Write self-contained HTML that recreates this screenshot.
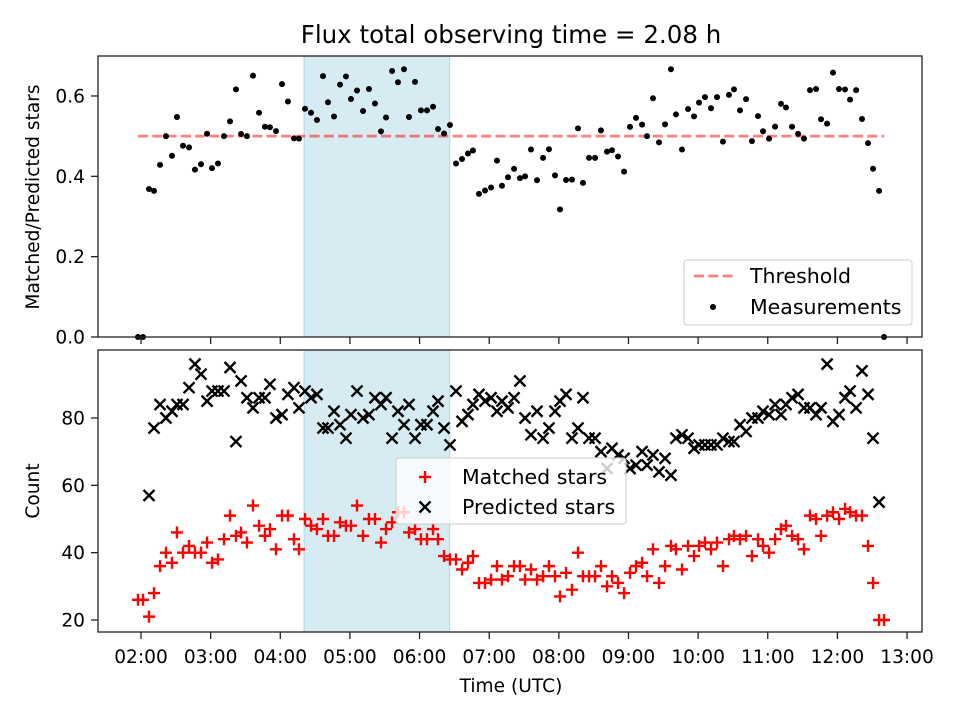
<!DOCTYPE html>
<html><head><meta charset="utf-8"><style>
body{margin:0;background:#fff}
svg{display:block;font-family:"DejaVu Sans","Liberation Sans",sans-serif}
</style></head><body>
<svg id="chart" width="960" height="720" viewBox="0 0 960 720"></svg>
<script>
const times=[117.4,121.7,126.9,131.2,136.4,141.5,146.7,151.0,156.2,161.4,166.5,171.7,176.9,181.2,186.3,191.5,196.7,201.8,206.2,211.3,216.5,221.7,226.8,231.1,236.3,241.5,246.6,251.8,256.1,261.3,266.5,271.6,276.8,281.1,286.3,291.5,296.6,300.9,306.1,311.3,316.4,321.6,326.8,331.1,336.3,341.4,346.6,350.9,356.1,361.2,366.4,371.6,375.9,381.1,386.2,391.4,396.6,401.7,406.0,411.2,416.4,421.6,426.7,431.0,436.2,441.4,446.5,450.9,456.0,461.2,466.4,471.5,476.7,481.0,486.2,491.3,496.5,500.8,506.0,511.2,516.3,521.5,525.8,531.0,536.2,541.3,546.5,551.7,556.0,561.1,566.3,571.5,576.6,580.9,586.1,591.3,596.5,600.8,605.9,611.1,616.3,621.4,626.6,630.9,636.1,641.3,646.4,651.6,655.9,661.1,666.3,671.4,675.7,680.9,686.1,691.2,696.4,701.6,705.9,711.1,716.2,721.4,726.6,730.9,736.1,741.2,746.4,750.7,755.9,760.2];
const matched=[26,26,21,28,36,40,37,46,40,42,40,40,43,37,38,44,51,45,46,43,54,48,45,47,41,51,51,44,41,50,48,47,50,45,45,49,48,48,54,45,50,50,43,47,49,52,52,46,47,44,44,47,44,39,38,38,35,37,39,31,31,32,36,32,33,36,36,32,35,32,33,36,33,27,34,29,40,33,33,33,36,30,33,31,28,34,36,37,33,41,31,36,42,41,35,42,39,42,43,41,43,36,44,45,44,45,39,44,42,40,44,47,48,45,44,41,51,50,45,51,52,50,53,52,51,51,42,31,20,20];
const predicted=[0,0,57,77,84,80,82,84,84,89,96,93,85,88,88,88,95,73,91,86,83,86,86,90,80,81,87,89,83,88,86,87,77,77,82,78,74,81,88,80,81,86,84,86,74,82,78,84,74,78,78,82,85,77,72,88,79,81,84,87,85,86,82,85,83,86,91,80,75,82,74,77,82,85,87,74,77,86,74,74,70,65,71,69,68,65,66,70,66,69,64,68,63,74,75,74,71,72,72,72,72,74,73,73,78,76,80,80,82,81,84,81,84,86,87,83,83,81,83,96,79,81,86,88,83,94,87,74,55,0];
const xTickLabels=["02:00","03:00","04:00","05:00","06:00","07:00","08:00","09:00","10:00","11:00","12:00","13:00"];
const xTickValues=[120,180,240,300,360,420,480,540,600,660,720,780];
const topTicks=[0,0.2,0.4,0.6];
const bottomTicks=[20,40,60,80];
const threshold=0.5;
const spanStart=260.5, spanEnd=386;

const NS="http://www.w3.org/2000/svg";
const svg=document.getElementById('chart');
function mk(tag,attrs,parent){const e=document.createElementNS(NS,tag);for(const k in attrs)e.setAttribute(k,attrs[k]);(parent||svg).appendChild(e);return e;}
const X=t=>141+(t-120)*69.64/60;
const YT=r=>337-r*401.7;
const YB=c=>620-(c-20)*3.367;
const L=98,R=922;
const FT=18.6, FL=20.5;

let t=mk('text',{x:511,y:43,'text-anchor':'middle','font-size':'24.5'});t.textContent='Flux total observing time = 2.08 h';



[[56,337,'top-observing-span'],[350,632,'bottom-observing-span']].forEach(([y0,y1,n])=>{
 const s=mk('rect',{x:X(spanStart),y:y0,width:X(spanEnd)-X(spanStart),height:y1-y0,fill:'#add8e6','fill-opacity':0.5,stroke:'#add8e6','stroke-width':1});
 
 
});

const tl=mk('line',{x1:X(times[0]),x2:X(times[times.length-1]),y1:YT(threshold),y2:YT(threshold),stroke:'#ff0000','stroke-opacity':0.5,'stroke-width':2.8,'stroke-dasharray':'10,4.3'});



const ratio=matched.map((m,i)=>predicted[i]>0?m/predicted[i]:0);
ratio.forEach((r,i)=>{
 const c=mk('circle',{cx:X(times[i]),cy:YT(r),r:3,fill:'#000'});
 
 
});

function xMark(cx,cy,col,g){const s=5.5;mk('path',{d:`M${cx-s},${cy-s}L${cx+s},${cy+s}M${cx-s},${cy+s}L${cx+s},${cy-s}`,stroke:col,'stroke-width':2.4,fill:'none'},g);}
function plusMark(cx,cy,col,g){const s=6;mk('path',{d:`M${cx-s},${cy}L${cx+s},${cy}M${cx},${cy-s}L${cx},${cy+s}`,stroke:col,'stroke-width':2.4,fill:'none'},g);}
const clip=mk('clipPath',{id:'cb'});mk('rect',{x:L,y:350,width:R-L,height:282},clip);
const gP=mk('g',{'clip-path':'url(#cb)'});


predicted.forEach((p,i)=>xMark(X(times[i]),YB(p),'#000',gP));
const gM=mk('g',{'clip-path':'url(#cb)'});


matched.forEach((m,i)=>plusMark(X(times[i]),YB(m),'#ff0000',gM));

[[56,337,'top-axes'],[350,632,'bottom-axes']].forEach(([y0,y1,n])=>{
 const f=mk('rect',{x:L,y:y0,width:R-L,height:y1-y0,fill:'none',stroke:'#222','stroke-width':1.3});
 
 
});

xTickValues.forEach((v,i)=>{
 const x=X(v);
 mk('line',{x1:x,x2:x,y1:337,y2:344,stroke:'#222','stroke-width':1.3});
 mk('line',{x1:x,x2:x,y1:632,y2:639,stroke:'#222','stroke-width':1.3});
 const tx=mk('text',{x:x,y:663,'text-anchor':'middle','font-size':FT});tx.textContent=xTickLabels[i];
 
 
});
topTicks.forEach(v=>{
 const y=YT(v);mk('line',{x1:L,x2:L-7,y1:y,y2:y,stroke:'#222','stroke-width':1.3});
 const tx=mk('text',{x:L-13,y:y+6.5,'text-anchor':'end','font-size':FT});tx.textContent=v.toFixed(1);
 
 
});
bottomTicks.forEach(v=>{
 const y=YB(v);mk('line',{x1:L,x2:L-7,y1:y,y2:y,stroke:'#222','stroke-width':1.3});
 const tx=mk('text',{x:L-13,y:y+6.5,'text-anchor':'end','font-size':FT});tx.textContent=v;
 
 
});
let a=mk('text',{x:511,y:692,'text-anchor':'middle','font-size':FT});a.textContent='Time (UTC)';


a=mk('text',{x:0,y:0,'text-anchor':'middle','font-size':FT,transform:'translate(39,197) rotate(-90)'});a.textContent='Matched/Predicted stars';


a=mk('text',{x:0,y:0,'text-anchor':'middle','font-size':FT,transform:'translate(39,491) rotate(-90)'});a.textContent='Count';



const lg1=mk('g',{});


mk('rect',{x:684,y:260,width:228,height:65,rx:3,fill:'#fff','fill-opacity':0.8,stroke:'#ccc'},lg1);
mk('line',{x1:694,x2:734,y1:276,y2:276,stroke:'#ff0000','stroke-opacity':0.5,'stroke-width':2.8,'stroke-dasharray':'10,4.3'},lg1);
let lt=mk('text',{x:750,y:283,'font-size':FL},lg1);lt.textContent='Threshold';
mk('circle',{cx:713,cy:307,r:3,fill:'#000'},lg1);
lt=mk('text',{x:750,y:314,'font-size':FL},lg1);lt.textContent='Measurements';
const lg2=mk('g',{});


mk('rect',{x:396,y:458,width:230,height:66,rx:3,fill:'#fff','fill-opacity':0.8,stroke:'#ccc'},lg2);
plusMark(425,477,'#ff0000',lg2);
lt=mk('text',{x:462,y:484,'font-size':FL},lg2);lt.textContent='Matched stars';
xMark(425,507,'#000',lg2);
lt=mk('text',{x:462,y:514,'font-size':FL},lg2);lt.textContent='Predicted stars';
</script>
</body></html>
